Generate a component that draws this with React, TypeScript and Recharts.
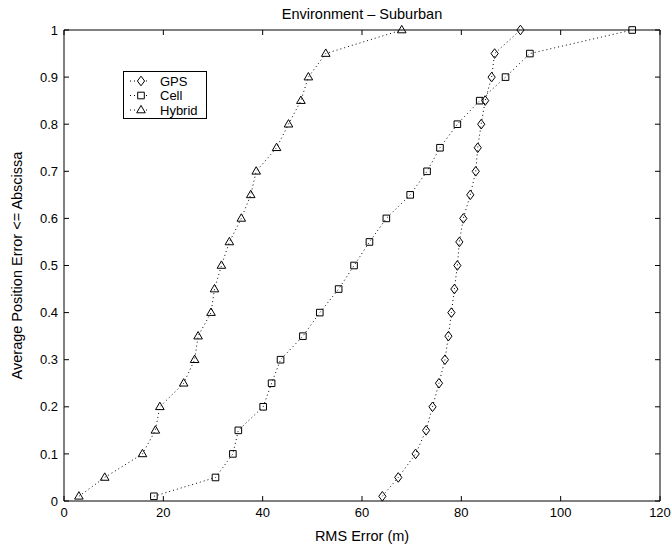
import React from 'react';
import { ScatterChart, Scatter, XAxis, YAxis, Legend, Label } from 'recharts';

const FONT = '"Liberation Sans", Arial, Helvetica, sans-serif';

const levels = [0.01, 0.05, 0.1, 0.15, 0.2, 0.25, 0.3, 0.35, 0.4, 0.45, 0.5, 0.55, 0.6, 0.65, 0.7, 0.75, 0.8, 0.85, 0.9, 0.95, 1];
const gpsErr = [64.1, 67.3, 70.8, 72.9, 74.2, 75.5, 76.7, 77.4, 78.0, 78.6, 79.2, 79.6, 80.4, 81.8, 82.9, 83.3, 84.0, 84.8, 86.1, 86.7, 91.9];
const cellErr = [18.1, 30.5, 34.0, 35.1, 40.1, 41.8, 43.6, 48.1, 51.5, 55.3, 58.4, 61.5, 64.9, 69.7, 73.1, 75.7, 79.2, 83.7, 88.9, 93.8, 114.4];
const hybridErr = [3.0, 8.2, 15.8, 18.4, 19.3, 24.1, 26.3, 27.0, 29.6, 30.3, 31.7, 33.3, 35.7, 37.6, 38.7, 42.8, 45.2, 47.7, 49.2, 52.7, 68.0];

const xTicks = [0, 20, 40, 60, 80, 100, 120];
const yTicks = [0, 0.1, 0.2, 0.3, 0.4, 0.5, 0.6, 0.7, 0.8, 0.9, 1];
const seriesNames = ['GPS', 'Cell', 'Hybrid'];

const toPoints = (xs: number[]) => xs.map((x, i) => ({ x, y: levels[i] }));
const gpsData = toPoints(gpsErr);
const cellData = toPoints(cellErr);
const hybridData = toPoints(hybridErr);

const DiamondPath = (cx: number, cy: number) =>
  `M${cx},${cy - 4.8}L${cx + 3.6},${cy}L${cx},${cy + 4.8}L${cx - 3.6},${cy}Z`;
const SquarePath = (cx: number, cy: number) =>
  `M${cx - 3.3},${cy - 3.3}L${cx + 3.3},${cy - 3.3}L${cx + 3.3},${cy + 3.3}L${cx - 3.3},${cy + 3.3}Z`;
const TrianglePath = (cx: number, cy: number) =>
  `M${cx},${cy - 4.6}L${cx + 4.3},${cy + 2.8}L${cx - 4.3},${cy + 2.8}Z`;

const makeShape = (fn: (cx: number, cy: number) => string) => (props: any) => {
  const { cx, cy } = props;
  if (typeof cx !== 'number' || typeof cy !== 'number') return <g />;
  return <path d={fn(cx, cy)} fill="none" stroke="#000" strokeWidth={1} />;
};

const shapeFns = [DiamondPath, SquarePath, TrianglePath];

const lineStyle = { stroke: '#000', strokeWidth: 1, strokeDasharray: '1 3' };

const LegendBox = () => (
  <svg width={84} height={48} style={{ display: 'block' }}>
    <rect x={0.5} y={0.5} width={83} height={47} fill="#fff" stroke="#000" strokeWidth={1} />
    {seriesNames.map((name, i) => {
      const cy = 10 + i * 14.5;
      return (
        <g key={name}>
          <line x1={7} y1={cy} x2={27} y2={cy} stroke="#000" strokeWidth={1} strokeDasharray="1 3" />
          <path d={shapeFns[i](18, cy)} fill="#fff" stroke="#000" strokeWidth={1} />
          <text x={37} y={cy + 4.6} fontSize={13} fontFamily={FONT} fill="#000">{name}</text>
        </g>
      );
    })}
  </svg>
);

const TitleContent = (props: any) => {
  const vb = props.viewBox || { x: 64, y: 0, width: 596, height: 30 };
  return (
    <text x={vb.x + vb.width / 2} y={vb.y + 18.5} textAnchor="middle" fontSize={14.5} fontFamily={FONT} fill="#000">
      Environment – Suburban
    </text>
  );
};

const XLabelContent = (props: any) => {
  const vb = props.viewBox || { x: 64, y: 501, width: 596, height: 53 };
  return (
    <text x={vb.x + vb.width / 2} y={vb.y + 40} textAnchor="middle" fontSize={14.5} fontFamily={FONT} fill="#000">
      RMS Error (m)
    </text>
  );
};

const YLabelContent = (props: any) => {
  const vb = props.viewBox || { x: 0, y: 30, width: 64, height: 471 };
  const cx = vb.x + 22;
  const cy = vb.y + vb.height / 2;
  return (
    <text x={cx} y={cy} transform={`rotate(-90 ${cx} ${cy})`} textAnchor="middle" fontSize={14.5} fontFamily={FONT} fill="#000">
      Average Position Error {'<='} Abscissa
    </text>
  );
};

const tickStyle = { fontSize: 13, fill: '#000', fontFamily: FONT };
const blank = () => '';

export default function App() {
  return (
    <div style={{ position: 'absolute', left: 0, top: 0, width: 672, height: 554, background: '#fff' }}>
      <ScatterChart width={672} height={554} margin={{ top: 0, right: 0, bottom: 0, left: 0 }}>
        <XAxis
          xAxisId="bottom"
          type="number"
          dataKey="x"
          domain={[0, 120]}
          ticks={xTicks}
          orientation="bottom"
          height={53}
          tickSize={-5}
          tickMargin={12}
          tick={tickStyle}
          axisLine={{ stroke: '#000' }}
          tickLine={{ stroke: '#000' }}
          interval={0}
        >
          <Label content={XLabelContent} />
        </XAxis>
        <XAxis
          xAxisId="top"
          type="number"
          dataKey="x"
          domain={[0, 120]}
          ticks={xTicks}
          orientation="top"
          height={30}
          tickSize={-5}
          tickFormatter={blank}
          tick={tickStyle}
          axisLine={{ stroke: '#000' }}
          tickLine={{ stroke: '#000' }}
          interval={0}
        >
          <Label content={TitleContent} />
        </XAxis>
        <YAxis
          yAxisId="left"
          type="number"
          dataKey="y"
          domain={[0, 1]}
          ticks={yTicks}
          orientation="left"
          width={64}
          tickSize={-5}
          tickMargin={11}
          tick={tickStyle}
          axisLine={{ stroke: '#000' }}
          tickLine={{ stroke: '#000' }}
          interval={0}
        >
          <Label content={YLabelContent} />
        </YAxis>
        <YAxis
          yAxisId="right"
          type="number"
          dataKey="y"
          domain={[0, 1]}
          ticks={yTicks}
          orientation="right"
          width={12}
          tickSize={-5}
          tickFormatter={blank}
          tick={tickStyle}
          axisLine={{ stroke: '#000' }}
          tickLine={{ stroke: '#000' }}
          interval={0}
        />
        <Legend
          layout="horizontal"
          verticalAlign="middle"
          align="center"
          content={LegendBox}
          wrapperStyle={{ left: 123, top: 71, width: 84, height: 48 }}
        />
        <Scatter
          name="GPS"
          data={gpsData}
          xAxisId="bottom"
          yAxisId="left"
          line={lineStyle}
          lineType="joint"
          shape={makeShape(DiamondPath)}
          isAnimationActive={false}
        />
        <Scatter
          name="Cell"
          data={cellData}
          xAxisId="bottom"
          yAxisId="left"
          line={lineStyle}
          lineType="joint"
          shape={makeShape(SquarePath)}
          isAnimationActive={false}
        />
        <Scatter
          name="Hybrid"
          data={hybridData}
          xAxisId="top"
          yAxisId="right"
          line={lineStyle}
          lineType="joint"
          shape={makeShape(TrianglePath)}
          isAnimationActive={false}
        />
      </ScatterChart>
    </div>
  );
}
